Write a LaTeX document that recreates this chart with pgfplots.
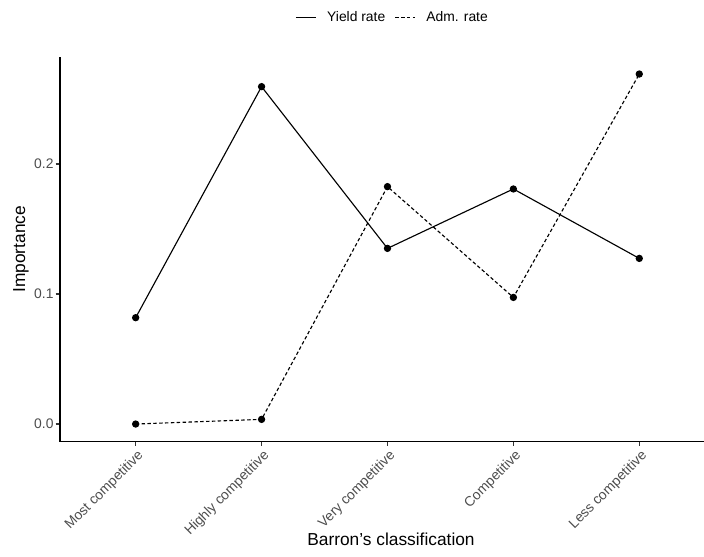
\documentclass[border=0pt]{standalone}
\usepackage{fontspec}
\setmainfont{Liberation Sans}
\usepackage{pgfplots}
\pgfplotsset{compat=1.18}
\definecolor{gray30}{HTML}{4D4D4D}
\definecolor{gray20}{HTML}{333333}
\pgfplotstableread{
x yield adm
1 0.0818 0.0000
2 0.2595 0.0036
3 0.1351 0.1826
4 0.1808 0.0974
5 0.1274 0.2692
}\datatable
\begin{document}
\begin{tikzpicture}[x=1pt,y=1pt]
\useasboundingbox (-45,-86.45) rectangle (483,331.3);
\begin{axis}[
  at={(0,0)}, anchor=south west,
  scale only axis, width=483pt, height=288.75pt,
  xmin=0.399, xmax=5.514, ymin=-0.0136, ymax=0.2825,
  axis x line*=bottom, axis y line*=left,
  axis line style={black, line width=0.9pt},
  xtick={1,2,3,4,5},
  xticklabels={Most competitive,Highly competitive,Very competitive,Competitive,Less competitive},
  ytick={0,0.1,0.2},
  yticklabel style={/pgf/number format/fixed, /pgf/number format/fixed zerofill, /pgf/number format/precision=1, font=\fontsize{10.4}{12}\selectfont, text=gray30, inner sep=1.5pt},
  /pgf/number format/assume math mode=true,
  xticklabel style={rotate=45, anchor=north east, font=\fontsize{10.4}{12}\selectfont, text=gray30, inner sep=1pt, yshift=-1pt},
  tick align=outside, major tick length=3.2pt,
  tick style={gray20, line width=0.9pt},
  xlabel={Barron’s classification},
  ylabel={Importance},
  xlabel style={at={(axis description cs:0.514,-0.2684)}, anchor=base, font=\fontsize{13}{15}\selectfont},
  ylabel style={at={(axis description cs:-0.0543,0.5)}, anchor=base, font=\fontsize{13}{15}\selectfont},
  legend columns=2,
  legend style={draw=none, fill=none, at={(axis description cs:0.517,1.103)}, anchor=center, font=\fontsize{10.4}{12}\selectfont,
    /tikz/every even column/.append style={column sep=5pt}},
  legend image code/.code={\draw[#1] (0pt,0pt) -- (15pt,0pt); \path (21pt,0pt);},
  clip=false,
]
\addplot[black, line width=0.85pt, mark=*, mark size=2.3pt, mark options={solid}] table[x=x, y=yield] {\datatable};
\addlegendentry{Yield rate}
\addplot[black, line width=0.85pt, dash pattern=on 2.6pt off 1.8pt, mark=*, mark size=2.3pt, mark options={solid}] table[x=x, y=adm] {\datatable};
\addlegendentry{Adm. rate}
\end{axis}
\end{tikzpicture}
\end{document}
